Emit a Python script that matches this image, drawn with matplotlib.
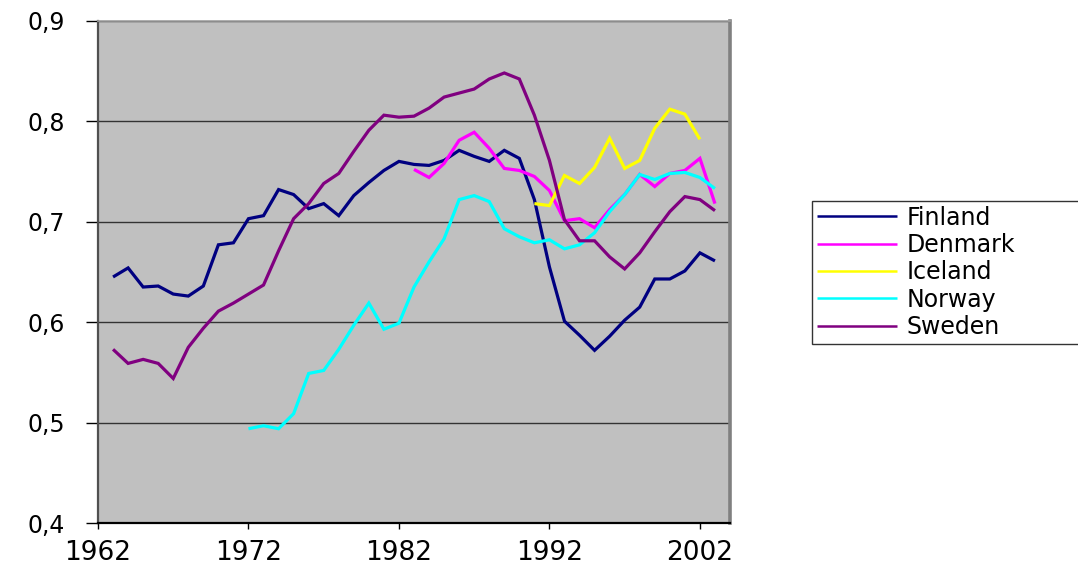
import matplotlib
matplotlib.use("Agg")
import matplotlib.pyplot as plt
from matplotlib.ticker import FixedLocator, FixedFormatter

# ---- data ----
fin_years = list(range(1963, 2004))
fin_vals = [0.645, 0.654, 0.635, 0.636, 0.628, 0.626, 0.636, 0.677, 0.679, 0.703,
            0.706, 0.732, 0.727, 0.713, 0.718, 0.706, 0.726, 0.739, 0.751, 0.760,
            0.757, 0.756, 0.761, 0.771, 0.765, 0.760, 0.771, 0.763, 0.722, 0.655,
            0.601, 0.587, 0.572, 0.586, 0.602, 0.615, 0.643, 0.643, 0.651, 0.669,
            0.661]

den_years = list(range(1983, 2004))
den_vals = [0.752, 0.744, 0.758, 0.781, 0.789, 0.773, 0.753, 0.751, 0.745, 0.731,
            0.701, 0.703, 0.694, 0.712, 0.727, 0.747, 0.735, 0.748, 0.751, 0.763,
            0.718]

ice_years = list(range(1991, 2003))
ice_vals = [0.718, 0.716, 0.746, 0.738, 0.754, 0.783, 0.753, 0.761, 0.793, 0.812,
            0.807, 0.782]

nor_years = list(range(1972, 2004))
nor_vals = [0.494, 0.497, 0.494, 0.509, 0.549, 0.552, 0.573, 0.597, 0.619, 0.593,
            0.599, 0.635, 0.660, 0.683, 0.722, 0.726, 0.720, 0.693, 0.685, 0.679,
            0.682, 0.673, 0.677, 0.689, 0.710, 0.727, 0.747, 0.742, 0.748, 0.749,
            0.744, 0.733]

swe_years = list(range(1963, 2004))
swe_vals = [0.573, 0.559, 0.563, 0.559, 0.544, 0.575, 0.594, 0.611, 0.619, 0.628,
            0.637, 0.671, 0.703, 0.718, 0.738, 0.748, 0.770, 0.791, 0.806, 0.804,
            0.805, 0.813, 0.824, 0.828, 0.832, 0.842, 0.848, 0.842, 0.806, 0.761,
            0.702, 0.681, 0.681, 0.665, 0.653, 0.669, 0.690, 0.710, 0.725, 0.722,
            0.711]

series_names = ["Finland", "Denmark", "Iceland", "Norway", "Sweden"]
series_colors = ["#000080", "#FF00FF", "#FFFF00", "#00FFFF", "#800080"]

x_ticks = [1962, 1972, 1982, 1992, 2002]
x_tick_labels = ["1962", "1972", "1982", "1992", "2002"]
y_ticks = [0.4, 0.5, 0.6, 0.7, 0.8, 0.9]
y_tick_labels = ["0,4", "0,5", "0,6", "0,7", "0,8", "0,9"]

plt.rcParams['font.family'] = ['DejaVu Sans']

W, H = 1078, 566
fig = plt.figure(figsize=(W / 100, H / 100), dpi=100)
fig.patch.set_facecolor("white")

left, right, top, bottom = 98, 730, 20.7, 523.2
ax = fig.add_axes([left / W, 1 - bottom / H, (right - left) / W, (bottom - top) / H])
ax.set_facecolor("#C0C0C0")

data = [(fin_years, fin_vals), (den_years, den_vals), (ice_years, ice_vals),
        (nor_years, nor_vals), (swe_years, swe_vals)]
for (xs, ys), name, col in zip(data, series_names, series_colors):
    ax.plot(xs, ys, color=col, lw=2.3, label=name, solid_joinstyle="miter",
            solid_capstyle="butt")

ax.set_xlim(1962, 2004)
ax.set_ylim(0.4, 0.9)

ax.yaxis.set_major_locator(FixedLocator(y_ticks))
ax.yaxis.set_major_formatter(FixedFormatter(y_tick_labels))
ax.xaxis.set_major_locator(FixedLocator(x_ticks))
ax.xaxis.set_major_formatter(FixedFormatter(x_tick_labels))

ax.grid(axis="y", color="#333333", lw=1.0)
ax.set_axisbelow(True)

ax.tick_params(axis="y", direction="out", length=8.6, width=1, color="black",
               pad=15, labelsize=17)
ax.tick_params(axis="x", direction="out", length=4.3, width=1, color="black",
               pad=8, labelsize=19)

ax.spines["left"].set_color("#505050")
ax.spines["left"].set_linewidth(1.6)
ax.spines["bottom"].set_color("#000000")
ax.spines["bottom"].set_linewidth(1.6)
ax.spines["top"].set_color("#A0A0A0")
ax.spines["top"].set_linewidth(1.2)
ax.spines["right"].set_color("#808080")
ax.spines["right"].set_linewidth(2.6)

leg_x0, leg_top, leg_x1, leg_bot = 812, 201, 1090, 342
leg = ax.legend(loc="upper left",
                bbox_to_anchor=(leg_x0 / W, 1 - leg_bot / H,
                                (leg_x1 - leg_x0) / W, (leg_bot - leg_top) / H),
                bbox_transform=fig.transFigure, mode="expand", fontsize=17,
                frameon=True, fancybox=False, handlelength=3.4,
                handletextpad=0.42, labelspacing=0.14, borderpad=0.2,
                borderaxespad=0)
leg.get_frame().set_edgecolor("black")
leg.get_frame().set_linewidth(1.0)
for h in leg.get_lines():
    h.set_linewidth(1.8)

fig.savefig("out.png", dpi=100)
